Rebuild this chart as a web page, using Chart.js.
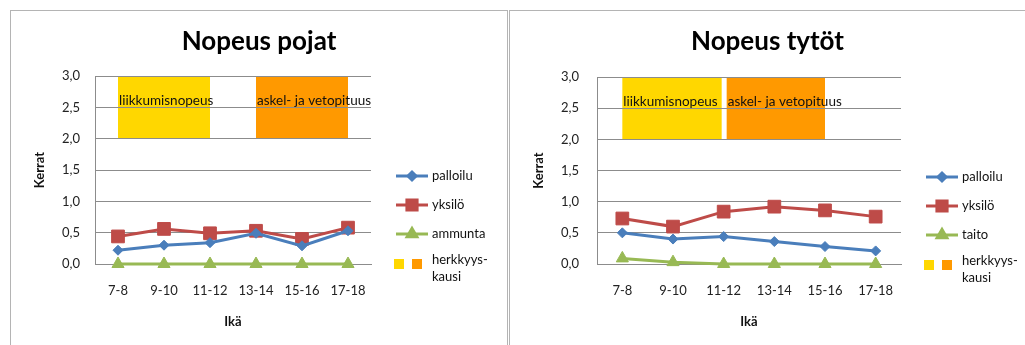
<!DOCTYPE html>
<html>
<head>
<meta charset="utf-8">
<script src="https://cdn.jsdelivr.net/npm/chart.js@4/dist/chart.umd.min.js"></script>
<style>
  body { margin: 0; background: #fff; width: 1025px; height: 345px; overflow: hidden; position: relative; }
  .panel { position: absolute; box-sizing: border-box; }
  #p1 { left: 10px; top: 10px; width: 498px; height: 345px; border: 1px solid #b4b4b4; }
  #p2 { left: 509px; top: 10px; width: 520px; height: 345px; border-top: 1px solid #b4b4b4; border-left: 1px solid #b4b4b4; }
  canvas { display: block; }
</style>
</head>
<body>
<div class="panel" id="p1"><canvas id="c1" width="496" height="334"></canvas></div>
<div class="panel" id="p2"><canvas id="c2" width="515" height="334"></canvas></div>
<script>
const ageGroups = ["7-8", "9-10", "11-12", "13-14", "15-16", "17-18"];

const poikaPalloilu = [0.22, 0.30, 0.34, 0.49, 0.29, 0.53];
const poikaYksilo = [0.44, 0.56, 0.49, 0.53, 0.40, 0.58];
const poikaAmmunta = [0, 0, 0, 0, 0, 0];

const tyttoPalloilu = [0.50, 0.40, 0.44, 0.36, 0.28, 0.21];
const tyttoYksilo = [0.73, 0.60, 0.84, 0.92, 0.86, 0.76];
const tyttoTaito = [0.09, 0.03, 0, 0, 0, 0];

// herkkyyskaudet: nimi, alku- ja loppuikä
const poikaKaudet = [["liikkumisnopeus", "7-8", "11-12"], ["askel- ja vetopituus", "13-14", "17-18"]];
const tyttoKaudet = [["liikkumisnopeus", "7-8", "11-12"], ["askel- ja vetopituus", "11-12", "15-16"]];
const kausiAla = 2.0;
const kausiYla = 3.0;
const kausiTekstiY = 2.6;

const yMin = 0, yMax = 3, yStep = 0.5;

const FONT = "Lato";
const colors = ["#4a7ebb", "#be4b48", "#98b954"];
const markers = [["rectRot", 5], ["rect", 9], ["triangle", 7]];
const kausiColors = ["#ffd700", "#ff9900"];

const kausiPlugin = {
  id: "kausi",
  beforeDraw(chart, args, opts) {
    const ctx = chart.ctx, x = chart.scales.x, y = chart.scales.y;
    const top = y.getPixelForValue(kausiYla), bot = y.getPixelForValue(kausiAla);
    opts.kaudet.forEach((k, i) => {
      let x0 = x.getPixelForValue(ageGroups.indexOf(k[1]));
      let x1 = x.getPixelForValue(ageGroups.indexOf(k[2]));
      if (i > 0 && opts.kaudet[i - 1][2] === k[1]) x0 += 3;
      if (i < opts.kaudet.length - 1 && opts.kaudet[i + 1][1] === k[2]) x1 -= 2;
      ctx.fillStyle = kausiColors[i];
      ctx.fillRect(x0, top, x1 - x0, bot - top);
    });
  },
  afterDraw(chart, args, opts) {
    const ctx = chart.ctx, x = chart.scales.x, y = chart.scales.y;
    ctx.save();
    ctx.font = "13.5px " + FONT;
    ctx.fillStyle = "#111";
    ctx.textBaseline = "middle";
    ctx.textAlign = "left";
    opts.kaudet.forEach((k, i) => {
      let x0 = x.getPixelForValue(ageGroups.indexOf(k[1]));
      if (i > 0 && opts.kaudet[i - 1][2] === k[1]) x0 += 3;
      ctx.fillText(k[0], x0 + 1, y.getPixelForValue(kausiTekstiY));
    });
    // otsikko koko kaavion keskelle
    ctx.font = "bold 26px " + FONT;
    ctx.fillStyle = "#000";
    ctx.textAlign = "center";
    ctx.fillText(opts.otsikko, chart.width / 2, 31);
    ctx.restore();
  }
};

const legendPlugin = {
  id: "omaLegend",
  afterDraw(chart) {
    const ctx = chart.ctx, a = chart.chartArea;
    const lx = a.right + 25;
    ctx.save();
    ctx.font = "13px " + FONT;
    ctx.textBaseline = "middle";
    ctx.textAlign = "left";
    chart.data.datasets.forEach((ds, i) => {
      const ly = a.top + 100 + i * 29;
      ctx.strokeStyle = ds.borderColor;
      ctx.lineWidth = 3;
      ctx.beginPath();
      ctx.moveTo(lx, ly);
      ctx.lineTo(lx + 32, ly);
      ctx.stroke();
      ctx.fillStyle = ds.borderColor;
      Chart.helpers.drawPoint(ctx, { pointStyle: ds.pointStyle, radius: ds.pointRadius * 0.8, borderWidth: 1, rotation: 0 }, lx + 16, ly);
      ctx.fill();
      ctx.fillStyle = "#111";
      ctx.fillText(ds.label, lx + 36, ly);
    });
    const hy = a.top + 188;
    ctx.fillStyle = kausiColors[0];
    ctx.fillRect(a.right + 23, hy - 5, 10, 10);
    ctx.fillStyle = kausiColors[1];
    ctx.fillRect(a.right + 41, hy - 5, 10, 10);
    ctx.fillStyle = "#111";
    ctx.fillText("herkkyys-", lx + 36, a.top + 184);
    ctx.fillText("kausi", lx + 36, a.top + 201);
    ctx.restore();
  }
};

function makeChart(id, title, names, series, kaudet, yWidth, rightPad, topPad) {
  return new Chart(document.getElementById(id), {
    type: "line",
    data: {
      labels: ageGroups,
      datasets: series.map((s, i) => ({
        label: names[i],
        data: s,
        borderColor: colors[i],
        backgroundColor: colors[i],
        borderWidth: 3,
        pointStyle: markers[i][0],
        pointRadius: markers[i][1],
        pointBorderWidth: 1,
        tension: 0,
        clip: false
      }))
    },
    options: {
      responsive: false,
      animation: false,
      layout: { padding: { left: 0, right: rightPad, top: topPad, bottom: 0 } },
      plugins: {
        legend: { display: false },
        tooltip: { enabled: false },
        title: { display: false },
        kausi: { kaudet: kaudet, otsikko: title }
      },
      scales: {
        x: {
          offset: true,
          grid: { display: false, drawTicks: false },
          border: { color: "#8c8c8c", width: 1 },
          ticks: { color: "#222", font: { family: FONT, size: 13 }, padding: 19, maxRotation: 0 },
          title: { display: true, text: "Ikä", color: "#111", font: { family: FONT, size: 13, weight: "bold" }, padding: { bottom: 15, top: 0 } },
          afterFit: s => { s.height = 81; }
        },
        y: {
          min: yMin,
          max: yMax,
          grid: { color: "#8c8c8c", drawTicks: false },
          border: { color: "#8c8c8c" },
          ticks: {
            stepSize: yStep,
            color: "#222",
            font: { family: FONT, size: 13 },
            padding: yWidth - 69,
            callback: v => v.toFixed(1).replace(".", ",")
          },
          title: { display: true, text: "Kerrat", color: "#111", font: { family: FONT, size: 13, weight: "bold" }, padding: { top: 21, bottom: 0 } },
          afterFit: s => { s.width = yWidth; }
        }
      }
    },
    plugins: [kausiPlugin, legendPlugin]
  });
}

makeChart("c1", "Nopeus pojat", ["palloilu", "yksilö", "ammunta"],
  [poikaPalloilu, poikaYksilo, poikaAmmunta], poikaKaudet, 84, 136, 65);
makeChart("c2", "Nopeus tytöt", ["palloilu", "yksilö", "taito"],
  [tyttoPalloilu, tyttoYksilo, tyttoTaito], tyttoKaudet, 87, 124, 66);
</script>
</body>
</html>
